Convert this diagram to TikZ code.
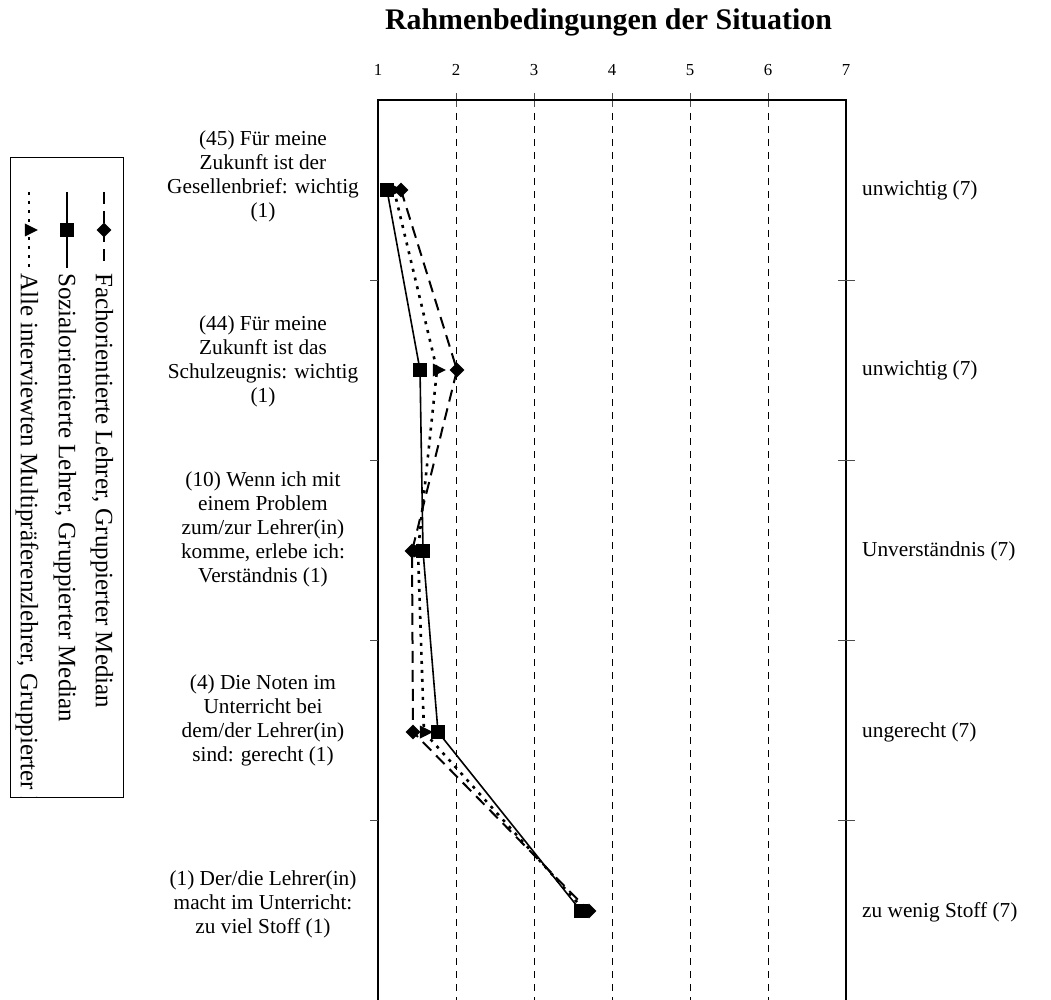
\documentclass[tikz,border=0pt]{standalone}
\usepackage{fontspec}
\setmainfont{Liberation Serif}
\usetikzlibrary{shapes.geometric}
\begin{document}
\begin{tikzpicture}[x=1pt,y=-1pt,
  lbl/.style={font=\fontsize{21.3}{24}\selectfont, align=center, inner sep=0pt},
  rlbl/.style={font=\fontsize{21.3}{24}\selectfont, anchor=west, inner sep=0pt},
  legtxt/.style={font=\fontsize{25}{28}\selectfont, rotate=-90, anchor=west, inner sep=0pt},
  tickl/.style={font=\fontsize{16.8}{20}\selectfont, inner sep=0pt},
  titl/.style={font=\fontsize{29.9}{34}\selectfont\bfseries, inner sep=0pt},
  gridline/.style={line width=0.8pt, dash pattern=on 7pt off 6pt},
  axisframe/.style={line width=2.4pt},
  tickmark/.style={line width=1pt, black!70},
  fach/.style={line width=2pt, dash pattern=on 12pt off 7pt},
  sozial/.style={line width=1.6pt},
  alle/.style={line width=2.6pt, dash pattern=on 3pt off 6pt},
  dmark/.style={diamond, fill=black, inner sep=0pt, minimum width=15pt, minimum height=15pt},
  smark/.style={rectangle, fill=black, inner sep=0pt, minimum size=13.5pt},
  tmark/.style={isosceles triangle, isosceles triangle stretches, fill=black, inner sep=0pt, minimum height=13pt, minimum width=13pt},
]
\useasboundingbox (0,0) rectangle (1051,1000);

% title
\node[titl] (title) at (608.5,22) {Rahmenbedingungen der Situation};

% axis coordinates
\foreach \i/\xx in {1/378,2/456,3/534,4/612,5/690,6/768,7/846}{
  \coordinate (t\i) at (\xx,100);
  \coordinate (b\i) at (\xx,1000);
  \node[tickl] (n\i) at (\xx,70) {\i};
}
% gridlines
\foreach \i in {2,...,6}{
  \draw[gridline] (t\i) -- (b\i);
  \draw[tickmark] ([yshift=-7pt]t\i) -- ([yshift=7pt]t\i);
}
\draw[tickmark] ([yshift=-7pt]t1) -- (t1);
\draw[tickmark] ([yshift=-7pt]t7) -- (t7);
% frame
\draw[axisframe] (b1) -- (t1) -- (t7) -- (b7);
% side ticks
\foreach \yy in {280,460,640,820}{
  \draw[tickmark] (370,\yy) -- (378,\yy);
  \draw[tickmark] (838,\yy) -- (855,\yy);
}

% data coordinates
\coordinate (f1) at (401,190);
\coordinate (f2) at (457,370);
\coordinate (f3) at (412,551);
\coordinate (f4) at (413,732);
\coordinate (f5) at (589,911);
\coordinate (s1) at (387,190);
\coordinate (s2) at (420,370);
\coordinate (s3) at (423,551);
\coordinate (s4) at (438,732);
\coordinate (s5) at (581,911);
\coordinate (a1) at (394,190);
\coordinate (a2) at (437,370);
\coordinate (a3) at (418,551);
\coordinate (a4) at (424,732);
\coordinate (a5) at (585,911);

\draw[fach] (f1) -- (f2) -- (f3) -- (f4) -- (f5);
\draw[alle] (a1) -- (a2) -- (a3) -- (a4) -- (a5);
\draw[sozial] (s1) -- (s2) -- (s3) -- (s4) -- (s5);

\foreach \k in {1,...,5}{
  \node[dmark] (fm\k) at (f\k) {};
  \node[tmark] (am\k) at (a\k) {};
  \node[smark] (sm\k) at (s\k) {};
}

% left labels
\node[lbl] (l1) at (263,176) {(45) Für meine\\Zukunft ist der\\Gesellenbrief: wichtig\\(1)};
\node[lbl] (l2) at (263,361) {(44) Für meine\\Zukunft ist das\\Schulzeugnis: wichtig\\(1)};
\node[lbl] (l3) at (263,529) {(10) Wenn ich mit\\einem Problem\\zum/zur Lehrer(in)\\komme, erlebe ich:\\Verständnis (1)};
\node[lbl] (l4) at (263,720) {(4) Die Noten im\\Unterricht bei\\dem/der Lehrer(in)\\sind: gerecht (1)};
\node[lbl] (l5) at (263,904) {(1) Der/die Lehrer(in)\\macht im Unterricht:\\zu viel Stoff (1)};

% right labels
\node[rlbl] (r1) at (862,190) {unwichtig (7)};
\node[rlbl] (r2) at (862,370) {unwichtig (7)};
\node[rlbl] (r3) at (862,551) {Unverständnis (7)};
\node[rlbl] (r4) at (862,732) {ungerecht (7)};
\node[rlbl] (r5) at (862,912) {zu wenig Stoff (7)};

% legend
\node[draw, line width=0.8pt, inner sep=0pt, minimum width=113pt, minimum height=640pt] (legend) at (66.5,477) {};
\coordinate (lf1) at (104,192); \coordinate (lf2) at (104,268);
\coordinate (ls1) at (67,192);  \coordinate (ls2) at (67,268);
\coordinate (la1) at (29,192);  \coordinate (la2) at (29,268);
\draw[fach] (lf1) -- (lf2);
\draw[sozial] (ls1) -- (ls2);
\draw[alle] (la1) -- (la2);
\node[dmark] (lfm) at (104,230) {};
\node[smark] (lsm) at (67,230) {};
\node[tmark] (lam) at (29,230) {};
\begin{scope}
\clip (legend.north west) rectangle (legend.south east);
\node[legtxt] (lft) at (102,273) {Fachorientierte Lehrer, Gruppierter Median};
\node[legtxt] (lst) at (65,273) {Sozialorientierte Lehrer, Gruppierter Median};
\node[legtxt] (lat) at (27,273) {Alle interviewten Multipräferenzlehrer, Gruppierter Median};
\end{scope}
\end{tikzpicture}
\end{document}
